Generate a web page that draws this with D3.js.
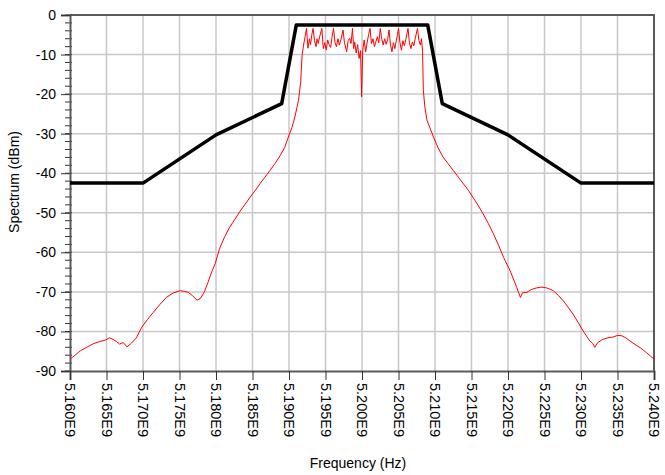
<!DOCTYPE html>
<html>
<head>
<meta charset="utf-8">
<script src="https://cdn.jsdelivr.net/npm/d3@7"></script>
<style>
  body { margin: 0; background: #fff; }
  text { font-family: "Liberation Sans", Arial, sans-serif; fill: #000; }
</style>
</head>
<body>
<div id="chart"></div>
<script>
// measured spectrum, frequency in MHz, level in dBm
// lower skirt
const lowFreq = [
  5160.0, 5160.7, 5161.4, 5162.3, 5163.2, 5164.0, 5164.8, 5165.4, 5165.9, 5166.4,
  5166.8, 5167.3, 5167.8, 5168.4, 5169.1, 5169.8, 5170.6, 5171.4, 5172.3, 5173.2,
  5174.1, 5175.1, 5175.7, 5176.2, 5176.8, 5177.4, 5177.9, 5178.4, 5178.9, 5179.4,
  5179.9, 5180.5, 5181.2, 5181.9, 5182.6, 5183.3, 5184.0, 5184.7, 5185.4, 5186.0,
  5186.7, 5187.4, 5188.1, 5188.8, 5189.4, 5189.9, 5190.4, 5190.8, 5191.3, 5191.6,
  5191.8
];
const lowLevel = [
  -87.0, -86.0, -84.9, -84.0, -83.1, -82.6, -82.2, -81.6, -82.0, -82.6,
  -83.2, -82.8, -83.9, -83.0, -81.6, -79.0, -77.0, -75.2, -73.2, -71.4,
  -70.3, -69.7, -69.9, -70.1, -71.0, -72.1, -71.6, -70.0, -67.6, -65.0,
  -62.8, -59.0, -56.0, -53.6, -51.6, -49.6, -47.8, -46.0, -44.3, -42.7,
  -41.0, -39.3, -37.5, -35.5, -33.5, -30.9, -28.5, -25.8, -21.6, -17.0,
  -10.0
];
// in-band
const bandFreq = [
  5192.0, 5192.2, 5192.4, 5192.6, 5192.8, 5192.95, 5193.1, 5193.3, 5193.5, 5193.7,
  5193.85, 5194.0, 5194.2, 5194.5, 5194.7, 5194.9, 5195.1, 5195.3, 5195.5, 5195.7,
  5195.9, 5196.1, 5196.3, 5196.5, 5196.7, 5196.9, 5197.1, 5197.4, 5197.6, 5197.9,
  5198.1, 5198.3, 5198.5, 5198.7, 5198.85, 5199.0, 5199.2, 5199.4, 5199.6, 5199.8,
  5199.95, 5200.1, 5200.3, 5200.5, 5200.7, 5200.9, 5201.1, 5201.3, 5201.5, 5201.7,
  5201.9, 5202.1, 5202.3, 5202.5, 5202.7, 5202.9, 5203.1, 5203.3, 5203.5, 5203.7,
  5203.9, 5204.1, 5204.3, 5204.5, 5204.7, 5204.85, 5205.0, 5205.2, 5205.4, 5205.6,
  5205.8, 5206.0, 5206.3, 5206.5, 5206.7, 5206.9, 5207.1, 5207.3, 5207.6, 5207.8,
  5208.0, 5208.15, 5208.3
];
const bandLevel = [
  -7.6, -5.5, -3.4, -8.4, -6.0, -7.5, -5.2, -3.4, -6.5, -8.0,
  -6.0, -7.2, -5.5, -3.4, -8.5, -7.0, -8.8, -6.3, -7.5, -8.2,
  -5.5, -3.4, -7.0, -8.0, -6.0, -7.6, -6.3, -3.8, -7.0, -9.3,
  -6.5, -5.9, -7.2, -3.4, -8.5, -6.8, -9.6, -7.5, -11.0, -9.0,
  -20.7, -9.0, -6.3, -9.3, -7.0, -5.0, -3.4, -7.2, -6.0, -8.0,
  -6.8, -5.5, -7.0, -3.4, -6.0, -7.6, -6.0, -7.4, -6.3, -3.8,
  -7.5, -9.3, -7.0, -8.5, -6.5, -5.0, -3.4, -7.0, -8.9, -6.5,
  -7.8, -6.2, -3.4, -7.0, -8.5, -6.8, -7.8, -5.8, -3.4, -6.5,
  -7.6, -6.0, -9.3
];
// upper skirt
const highFreq = [
  5208.4, 5208.6, 5208.9, 5209.8, 5210.4, 5211.1, 5211.8, 5212.5, 5213.2, 5213.9,
  5214.6, 5215.2, 5215.9, 5216.6, 5217.3, 5218.0, 5218.7, 5219.4, 5220.3, 5220.8,
  5221.2, 5221.7, 5222.0, 5222.6, 5223.2, 5223.9, 5224.5, 5225.1, 5225.6, 5226.2,
  5226.9, 5227.6, 5228.2, 5228.9, 5229.6, 5230.3, 5230.8, 5231.2, 5231.6, 5231.9,
  5232.3, 5233.0, 5233.7, 5234.4, 5235.0, 5235.6, 5236.2, 5236.7, 5237.4, 5238.1,
  5238.6, 5239.0, 5239.5, 5240.0
];
const highLevel = [
  -19.0, -23.0, -26.6, -30.9, -33.5, -35.9, -37.6, -39.3, -41.0, -42.7,
  -44.4, -46.1, -48.1, -50.3, -52.7, -55.3, -58.2, -61.3, -64.7, -67.0,
  -68.9, -71.4, -70.2, -70.1, -69.4, -69.0, -68.8, -68.9, -69.2, -69.7,
  -70.9, -72.3, -73.8, -75.6, -77.7, -79.9, -81.3, -82.4, -83.0, -84.0,
  -82.8, -82.0, -81.6, -81.4, -81.0, -81.1, -81.7, -82.4, -83.3, -84.1,
  -84.8, -85.4, -86.2, -87.0
];

// spectral mask
const maskFreq = [5160, 5170, 5180, 5189, 5191, 5209, 5211, 5220, 5230, 5240];
const maskLevel = [-42.5, -42.5, -30.3, -22.4, -2.5, -2.5, -22.4, -30.3, -42.5, -42.5];

const xTicks = d3.range(5160, 5240.1, 5);
const yTicks = d3.range(-90, 0.1, 10);
const yMinor = d3.range(-90, 0.1, 2);

const svgW = 665, svgH = 475;
const plotL = 70, plotR = 654, plotT = 15, plotB = 371;

const svg = d3.select('#chart').append('svg')
  .attr('width', svgW)
  .attr('height', svgH);

const x = d3.scaleLinear().domain([5160, 5240]).range([plotL, plotR]);
const y = d3.scaleLinear().domain([-90, 0]).range([plotB, plotT]);

// grid
svg.append('g').selectAll('line')
  .data(xTicks.slice(1, -1))
  .enter().append('line')
  .attr('x1', d => x(d)).attr('x2', d => x(d))
  .attr('y1', plotT).attr('y2', plotB)
  .attr('stroke', '#c8c8c8').attr('stroke-width', 1.5);

svg.append('g').selectAll('line')
  .data(yTicks.slice(1, -1))
  .enter().append('line')
  .attr('x1', plotL).attr('x2', plotR)
  .attr('y1', d => y(d)).attr('y2', d => y(d))
  .attr('stroke', '#c8c8c8').attr('stroke-width', 1.5);

// frame (top + right)
svg.append('path')
  .attr('d', `M${plotL},${plotT}H${plotR}V${plotB}`)
  .attr('fill', 'none').attr('stroke', '#5a5a5a').attr('stroke-width', 2);

// y minor ticks
svg.append('g').selectAll('line')
  .data(yMinor)
  .enter().append('line')
  .attr('x1', plotL - 5).attr('x2', plotL + 2)
  .attr('y1', d => y(d)).attr('y2', d => y(d))
  .attr('stroke', '#333').attr('stroke-width', 1);

// axes
const yAxis = d3.axisLeft(y).tickValues(yTicks).tickSize(9).tickPadding(5)
  .tickFormat(d => String(d));
const yG = svg.append('g').attr('transform', `translate(${plotL},0)`).call(yAxis);
yG.select('.domain').attr('stroke', '#5a5a5a').attr('stroke-width', 2);
yG.selectAll('.tick line').attr('stroke', '#333');
yG.selectAll('.tick text').style('font-size', '14px').attr('fill', '#000');

const xAxis = d3.axisBottom(x).tickValues(xTicks).tickSize(9)
  .tickFormat(d => (d / 1000).toFixed(3) + 'E9');
const xG = svg.append('g').attr('transform', `translate(0,${plotB})`).call(xAxis);
xG.select('.domain').attr('stroke', '#5a5a5a').attr('stroke-width', 2);
xG.selectAll('.tick line').attr('stroke', '#333');
xG.selectAll('.tick text')
  .style('font-size', '14.5px').attr('fill', '#000')
  .attr('text-anchor', 'start')
  .attr('dy', '0.35em')
  .attr('transform', 'translate(0,12) rotate(90)')
  .attr('x', 0).attr('y', 0);

// red measured spectrum
const specFreq = lowFreq.concat(bandFreq, highFreq);
const specLevel = lowLevel.concat(bandLevel, highLevel);
const specData = specFreq.map((f, i) => [f, specLevel[i]]);
svg.append('path')
  .datum(specData)
  .attr('d', d3.line().x(d => x(d[0])).y(d => y(d[1])))
  .attr('fill', 'none').attr('stroke', '#ff0000').attr('stroke-width', 1);

// black mask
const maskData = maskFreq.map((f, i) => [f, maskLevel[i]]);
svg.append('path')
  .datum(maskData)
  .attr('d', d3.line().x(d => x(d[0])).y(d => y(d[1])))
  .attr('fill', 'none').attr('stroke', '#000').attr('stroke-width', 3.5)
  .attr('stroke-linejoin', 'round');

// titles
svg.append('text')
  .attr('x', (plotL + plotR) / 2 - 4).attr('y', 468)
  .attr('text-anchor', 'middle')
  .style('font-size', '14px')
  .text('Frequency (Hz)');

svg.append('text')
  .attr('transform', `translate(19,182) rotate(-90)`)
  .attr('text-anchor', 'middle')
  .style('font-size', '14px')
  .text('Spectrum (dBm)');
</script>
</body>
</html>
